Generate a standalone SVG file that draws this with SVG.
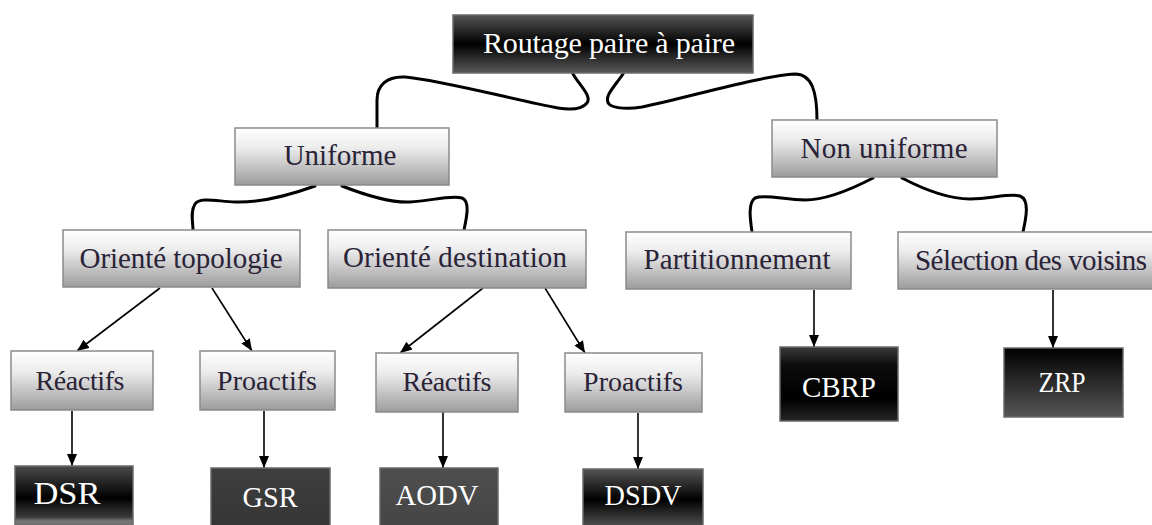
<svg xmlns="http://www.w3.org/2000/svg" width="1152" height="525" viewBox="0 0 1152 525">
  <defs>
    <!-- silver boxes: white at the top fading to grey -->
    <linearGradient id="silver" x1="0" y1="0" x2="0" y2="1">
      <stop offset="0" stop-color="#ffffff"/>
      <stop offset="0.35" stop-color="#ececec"/>
      <stop offset="1" stop-color="#9c9c9c"/>
    </linearGradient>
    <!-- glossy black: grey edges, black band in the middle -->
    <linearGradient id="gloss" x1="0" y1="0" x2="0" y2="1">
      <stop offset="0" stop-color="#555555"/>
      <stop offset="0.5" stop-color="#000000"/>
      <stop offset="1" stop-color="#5a5a5a"/>
    </linearGradient>
    <linearGradient id="glossLow" x1="0" y1="0" x2="0" y2="1">
      <stop offset="0" stop-color="#4a4a4a"/>
      <stop offset="0.5" stop-color="#000000"/>
      <stop offset="0.8" stop-color="#3c3c3c"/>
      <stop offset="0.86" stop-color="#777777"/>
      <stop offset="1" stop-color="#6a6a6a"/>
    </linearGradient>
    <linearGradient id="deep" x1="0" y1="0" x2="0" y2="1">
      <stop offset="0" stop-color="#3a3a3a"/>
      <stop offset="0.25" stop-color="#0c0c0c"/>
      <stop offset="0.7" stop-color="#000000"/>
      <stop offset="1" stop-color="#262626"/>
    </linearGradient>
    <linearGradient id="fade" x1="0" y1="0" x2="0" y2="1">
      <stop offset="0" stop-color="#000000"/>
      <stop offset="1" stop-color="#565656"/>
    </linearGradient>
    <linearGradient id="slate" x1="0" y1="0" x2="0" y2="1">
      <stop offset="0" stop-color="#3e3e3e"/>
      <stop offset="1" stop-color="#353535"/>
    </linearGradient>
    <linearGradient id="ash" x1="0" y1="0" x2="0" y2="1">
      <stop offset="0" stop-color="#4e4e4e"/>
      <stop offset="1" stop-color="#454545"/>
    </linearGradient>
    <marker id="head" viewBox="0 0 12 10" markerUnits="userSpaceOnUse" markerWidth="12" markerHeight="11" refX="12" refY="5" orient="auto">
      <path d="M0,0 L12,5 L0,10 z" fill="#000"/>
    </marker>
  </defs>

  <rect width="1152" height="525" fill="#ffffff"/>

  <!-- connectors -->
  <g id="connectors" fill="none" stroke="#000">
    <g stroke-width="3" stroke-linecap="round">
      <path d="M573,74 C580,86 592,96 587,103 C582,109 570,110 558,108 C520,101 440,80 405,77 C386,76 377,86 377,100 L377,128"/>
      <path d="M623,74 C615,86 603,97 609,104 C614,109 630,109 642,107 C690,97 760,76 795,74 C812,74 817,92 817,120"/>
      <path d="M315,186 C290,195 260,203 235,202 C215,201 200,197 195,204 C190,212 193,222 193,230"/>
      <path d="M342,186 C365,195 390,203 410,202 C430,201 450,195 462,198 C470,201 467,216 464,230"/>
      <path d="M873,178 C850,190 825,200 805,200 C785,200 765,194 755,198 C748,203 750,218 752,232"/>
      <path d="M902,178 C925,190 950,199 970,199 C990,199 1010,193 1020,196 C1030,200 1026,218 1023,232"/>
    </g>
    <g stroke-width="1.6" marker-end="url(#head)">
      <line x1="160" y1="288" x2="77" y2="351"/>
      <line x1="212" y1="288" x2="252" y2="351"/>
      <line x1="483" y1="288" x2="400" y2="353"/>
      <line x1="545" y1="288" x2="585" y2="353"/>
      <line x1="814" y1="290" x2="814" y2="347"/>
      <line x1="1053" y1="290" x2="1053" y2="348"/>
      <line x1="72" y1="411" x2="72" y2="466"/>
      <line x1="264" y1="411" x2="264" y2="468"/>
      <line x1="443" y1="412" x2="443" y2="468"/>
      <line x1="638" y1="413" x2="638" y2="469"/>
    </g>
  </g>

  <!-- root -->
  <g id="root">
    <rect x="453" y="15" width="300" height="58" fill="url(#gloss)" stroke="#6a6a6a" stroke-width="1.5"/>
    <text x="609" y="53" fill="#ffffff" text-anchor="middle" font-size="30" font-family="Liberation Serif, serif" style="font-family: 'Liberation Serif', serif !important" textLength="252" lengthAdjust="spacing">Routage paire &#224; paire</text>
  </g>

  <!-- second level -->
  <g id="uniforme">
    <rect x="235" y="128" width="214" height="57" fill="url(#silver)" stroke="#8a8a8a" stroke-width="1.5"/>
    <text x="340" y="165" fill="#2a2338" text-anchor="middle" font-size="29" font-family="Liberation Serif, serif" style="font-family: 'Liberation Serif', serif !important">Uniforme</text>
  </g>
  <g id="non-uniforme">
    <rect x="772" y="120" width="225" height="57" fill="url(#silver)" stroke="#8a8a8a" stroke-width="1.5"/>
    <text x="884" y="158" fill="#2a2338" text-anchor="middle" font-size="29" font-family="Liberation Serif, serif" style="font-family: 'Liberation Serif', serif !important" textLength="167" lengthAdjust="spacing">Non uniforme</text>
  </g>

  <!-- third level -->
  <g id="oriente-topologie">
    <rect x="63" y="230" width="237" height="57" fill="url(#silver)" stroke="#8a8a8a" stroke-width="1.5"/>
    <text x="181" y="268" fill="#2a2338" text-anchor="middle" font-size="29" font-family="Liberation Serif, serif" style="font-family: 'Liberation Serif', serif !important" textLength="203" lengthAdjust="spacing">Orient&#233; topologie</text>
  </g>
  <g id="oriente-destination">
    <rect x="328" y="230" width="258" height="58" fill="url(#silver)" stroke="#8a8a8a" stroke-width="1.5"/>
    <text x="455" y="267" fill="#2a2338" text-anchor="middle" font-size="29" font-family="Liberation Serif, serif" style="font-family: 'Liberation Serif', serif !important" textLength="224" lengthAdjust="spacing">Orient&#233; destination</text>
  </g>
  <g id="partitionnement">
    <rect x="626" y="232" width="225" height="57" fill="url(#silver)" stroke="#8a8a8a" stroke-width="1.5"/>
    <text x="737" y="269" fill="#2a2338" text-anchor="middle" font-size="29" font-family="Liberation Serif, serif" style="font-family: 'Liberation Serif', serif !important" textLength="187" lengthAdjust="spacing">Partitionnement</text>
  </g>
  <g id="selection-voisins">
    <rect x="898" y="232" width="258" height="57" fill="url(#silver)" stroke="#8a8a8a" stroke-width="1.5"/>
    <text x="1031" y="270" fill="#2a2338" text-anchor="middle" font-size="29" font-family="Liberation Serif, serif" style="font-family: 'Liberation Serif', serif !important" textLength="232" lengthAdjust="spacing">S&#233;lection des voisins</text>
  </g>

  <!-- fourth level -->
  <g id="reactifs-1">
    <rect x="11" y="351" width="142" height="59" fill="url(#silver)" stroke="#8a8a8a" stroke-width="1.5"/>
    <text x="80" y="390" fill="#2a2338" text-anchor="middle" font-size="28" font-family="Liberation Serif, serif" style="font-family: 'Liberation Serif', serif !important" textLength="89" lengthAdjust="spacing">R&#233;actifs</text>
  </g>
  <g id="proactifs-1">
    <rect x="200" y="351" width="135" height="59" fill="url(#silver)" stroke="#8a8a8a" stroke-width="1.5"/>
    <text x="267" y="390" fill="#2a2338" text-anchor="middle" font-size="28" font-family="Liberation Serif, serif" style="font-family: 'Liberation Serif', serif !important" textLength="100" lengthAdjust="spacing">Proactifs</text>
  </g>
  <g id="reactifs-2">
    <rect x="376" y="353" width="142" height="59" fill="url(#silver)" stroke="#8a8a8a" stroke-width="1.5"/>
    <text x="447" y="391" fill="#2a2338" text-anchor="middle" font-size="28" font-family="Liberation Serif, serif" style="font-family: 'Liberation Serif', serif !important" textLength="89" lengthAdjust="spacing">R&#233;actifs</text>
  </g>
  <g id="proactifs-2">
    <rect x="565" y="353" width="137" height="59" fill="url(#silver)" stroke="#8a8a8a" stroke-width="1.5"/>
    <text x="633" y="391" fill="#2a2338" text-anchor="middle" font-size="28" font-family="Liberation Serif, serif" style="font-family: 'Liberation Serif', serif !important" textLength="100" lengthAdjust="spacing">Proactifs</text>
  </g>

  <!-- protocols -->
  <g id="cbrp">
    <rect x="780" y="347" width="118" height="74" fill="url(#deep)" stroke="#6a6a6a" stroke-width="1.5"/>
    <text x="839" y="397" fill="#ffffff" text-anchor="middle" font-size="29" font-family="Liberation Serif, serif" style="font-family: 'Liberation Serif', serif !important" textLength="74" lengthAdjust="spacing">CBRP</text>
  </g>
  <g id="zrp">
    <rect x="1004" y="348" width="119" height="69" fill="url(#fade)" stroke="#6a6a6a" stroke-width="1.5"/>
    <text x="1062" y="392" fill="#ffffff" text-anchor="middle" font-size="29" font-family="Liberation Serif, serif" style="font-family: 'Liberation Serif', serif !important" textLength="47" lengthAdjust="spacingAndGlyphs">ZRP</text>
  </g>
  <g id="dsr">
    <rect x="15" y="466" width="118" height="64" fill="url(#glossLow)" stroke="#6a6a6a" stroke-width="1.5"/>
    <text x="67" y="504" fill="#ffffff" text-anchor="middle" font-size="31" font-family="Liberation Serif, serif" style="font-family: 'Liberation Serif', serif !important" textLength="67" lengthAdjust="spacingAndGlyphs">DSR</text>
  </g>
  <g id="gsr">
    <rect x="211" y="468" width="119" height="62" fill="url(#slate)" stroke="#6a6a6a" stroke-width="1.5"/>
    <text x="270" y="507" fill="#ffffff" text-anchor="middle" font-size="29" font-family="Liberation Serif, serif" style="font-family: 'Liberation Serif', serif !important" textLength="55" lengthAdjust="spacingAndGlyphs">GSR</text>
  </g>
  <g id="aodv">
    <rect x="380" y="468" width="118" height="62" fill="url(#ash)" stroke="#6a6a6a" stroke-width="1.5"/>
    <text x="437" y="505" fill="#ffffff" text-anchor="middle" font-size="29" font-family="Liberation Serif, serif" style="font-family: 'Liberation Serif', serif !important" textLength="83" lengthAdjust="spacingAndGlyphs">AODV</text>
  </g>
  <g id="dsdv">
    <rect x="583" y="469" width="120" height="61" fill="url(#gloss)" stroke="#6a6a6a" stroke-width="1.5"/>
    <text x="643" y="505" fill="#ffffff" text-anchor="middle" font-size="29" font-family="Liberation Serif, serif" style="font-family: 'Liberation Serif', serif !important" textLength="77" lengthAdjust="spacingAndGlyphs">DSDV</text>
  </g>
</svg>
